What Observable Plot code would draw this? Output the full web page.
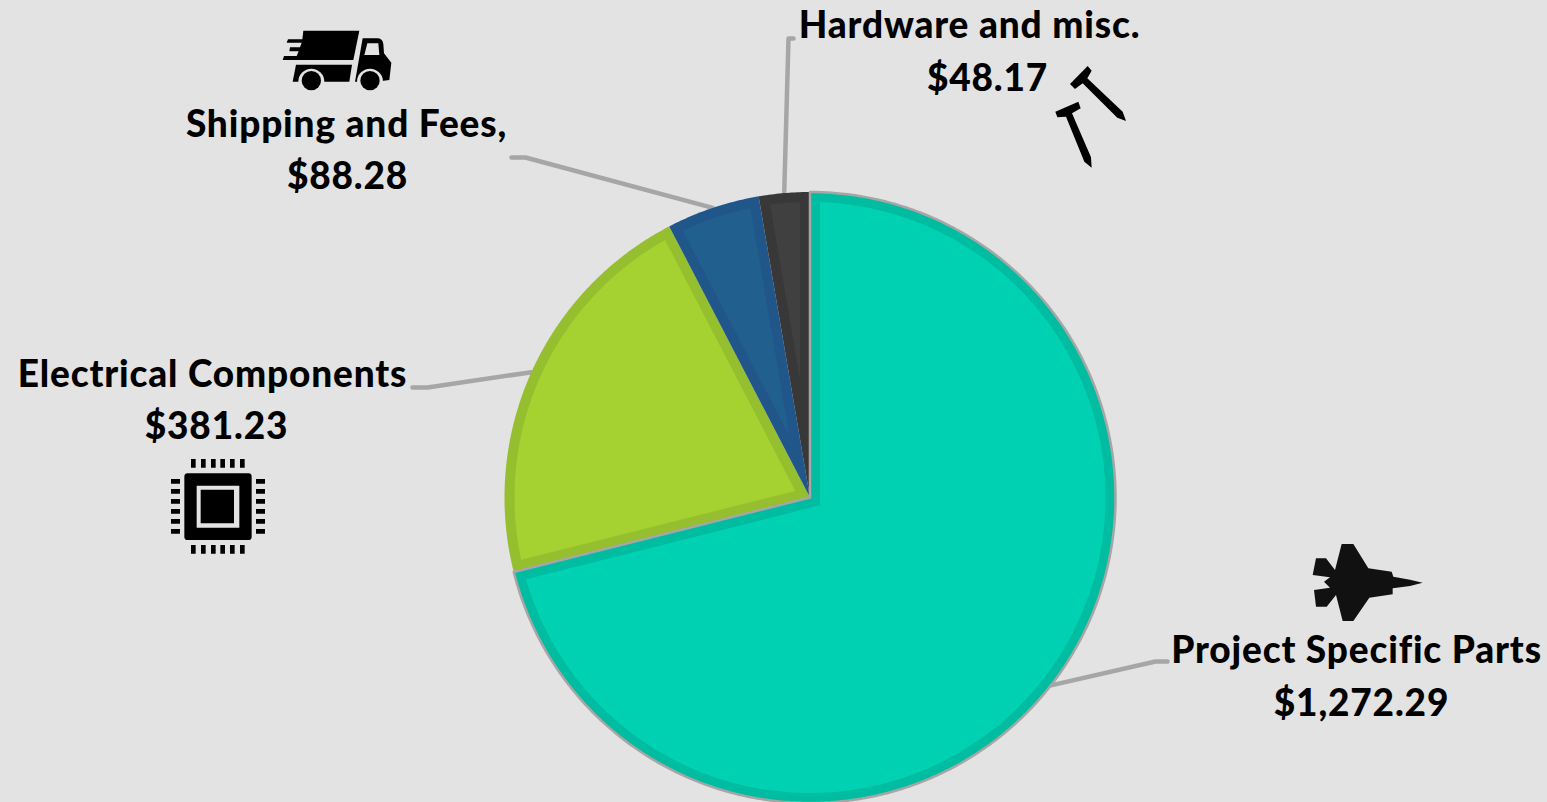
<!DOCTYPE html>
<html>
<head>
<meta charset="utf-8">
<title>Project costs</title>
<script src="https://cdn.jsdelivr.net/npm/d3@7"></script>
<script src="https://cdn.jsdelivr.net/npm/@observablehq/plot@0.6"></script>
<style>
  html, body { margin: 0; padding: 0; background: #e3e3e3; }
  svg { display: block; }
  svg text { font-variant-ligatures: none; letter-spacing: 0.85px; }
</style>
</head>
<body>
<div id="chart"></div>
<script>
// Spending by category, clockwise from twelve o'clock
const categories = ["Project Specific Parts", "Electrical Components", "Shipping and Fees,", "Hardware and misc."];
const costs = [1272.29, 381.23, 88.28, 48.17];

// Slice colours: face and the darker inner band
const faceColors = ["#00d1b2", "#a5d231", "#215f8f", "#404040"];
const bandColors = ["#00bca0", "#95bf2e", "#20568a", "#383838"];

// Page layout
const W = 1547, H = 802;
const center = {x: 809.5, y: 497};
const R = 305.5, BAND = 10;
const FONT = "Lato, sans-serif", FONT_SIZE = 37;
const labelPlaces = [
  {name: [1356, 662], value: [1361, 715], elbow: [1155, 661], end: [1167, 661]},
  {name: [212, 386], value: [216, 438], elbow: [427, 387], end: [412, 387]},
  {name: [346, 136], value: [347, 188], elbow: [525, 157], end: [511, 157]},
  {name: [969, 37], value: [987, 90], elbow: [788, 38], end: [793, 38]}
];

const wedges = d3.pie().sort(null)(costs);
const polar = (angle, radius) => [center.x + radius * Math.sin(angle), center.y - radius * Math.cos(angle)];

// Outline of a slice, optionally pulled in from its edges by `inset`
function wedgeOutline(w, inset = 0) {
  const r = R - inset;
  const pad = inset ? Math.asin(inset / r) : 0;
  const a0 = w.startAngle + pad, a1 = w.endAngle - pad;
  const n = Math.ceil((a1 - a0) / (Math.PI / 360));
  const half = (w.endAngle - w.startAngle) / 2;
  const apex = polar(w.startAngle + half, inset / Math.sin(half));
  return [apex, ...d3.range(n + 1).map(i => polar(a0 + (a1 - a0) * i / n, r)), apex];
}

const slicePoints = (inset, colors) => wedges.flatMap((w, i) =>
  wedgeOutline(w, inset).map(([x, y]) => ({x, y, key: categories[i], color: colors[i]})));

// Leader lines run from the middle of each slice's rim to its label
const leaderPoints = wedges.flatMap((w, i) => {
  const p = labelPlaces[i];
  return [polar((w.startAngle + w.endAngle) / 2, R), p.elbow, p.end].map(([x, y]) => ({x, y, key: categories[i]}));
});

const labels = categories.map((name, i) => ({name, value: d3.format("$,.2f")(costs[i]), place: labelPlaces[i]}));

// Pictograms, each in its own local pixel space (1 unit = 1/3 px)
const ink = "#000", paper = "#e3e3e3";
const ring = (cx, cy, r) => `M${cx - r},${cy}a${r},${r} 0 1,0 ${2 * r},0a${r},${r} 0 1,0 ${-2 * r},0Z`;
const pins = (xs, ys, w, h) => xs.flatMap(x => ys.map(y => `M${x},${y}h${w}v${h}h${-w}Z`)).join("");
const pinRow = [93, 123, 153, 181, 210, 240], pinCol = [87, 117, 147, 177, 207, 237];
const icons = [
  {at: [270, 20], parts: [
    ["M100,32H268L250,120H38L42,108H80L86,94H58L60,82H90L95,68H50L54,58H97Z", ink],
    ["M78,134H246L238,185H68Z", ink],
    ["M278,55H322Q338,55 340,72L342,100L364,128L358,180L318,185H255ZM292,70L283,105H328L325,70Z", ink],
    [ring(124, 185, 39), paper],
    [ring(300, 185, 39), paper],
    ["M60,186H340V220H60Z", paper],
    [ring(124, 182, 29), ink], [ring(300, 182, 29), ink]
  ]},
  {at: [1040, 50], parts: [
    ["M143,48L155,62L142,85L248,185L258,213L232,203L128,100L105,117L90,102Z", ink],
    ["M46,185L115,155L122,175L96,190L153,322L155,353L133,335L78,200L52,202Z", ink]
  ]},
  {at: [160, 450], parts: [
    ["M83,70H265Q275,70 275,80V260Q275,270 265,270H83Q73,270 73,260V80Q73,70 83,70Z", ink],
    ["M110,107H238V233H110Z", paper],
    ["M122,119H222V220H122Z", ink],
    [pins(pinRow, [27, 285], 14, 26), ink],
    [pins([33, 288], pinCol, 27, 14), ink]
  ]},
  {at: [1300, 535], parts: [
    ["M368,143L330,134L280,125L275,110L205,100L160,27H125L105,105L78,70H48L38,120L90,127L72,140L90,158L42,165L48,215H80L108,180L128,258H160L208,188L278,178V160L330,153Z", "#111"]
  ]}
];

function iconMark(index, {x, y}) {
  const g = d3.create("svg:g");
  for (const icon of icons) {
    const layer = g.append("g").attr("transform", `translate(${x(icon.at[0])},${y(icon.at[1])}) scale(${1 / 3})`);
    for (const [d, fill] of icon.parts) layer.append("path").attr("d", d).attr("fill", fill);
  }
  return g.node();
}

const textStyle = {
  fontFamily: FONT, fontSize: FONT_SIZE, fontWeight: 900, fill: "#000",
  textAnchor: "middle", lineAnchor: "bottom"
};

const chart = Plot.plot({
  width: W, height: H, margin: 0,
  style: {background: "#e3e3e3"},
  x: {domain: [0, W], range: [0, W], axis: null},
  y: {domain: [0, H], range: [0, H], axis: null},
  color: {type: "identity"},
  marks: [
    Plot.line(leaderPoints, {x: "x", y: "y", z: "key", stroke: "#a6a6a6", strokeWidth: 4.5, strokeLinejoin: "round"}),
    Plot.line(slicePoints(0, bandColors), {x: "x", y: "y", z: "key", fill: "color", stroke: "none"}),
    Plot.line(slicePoints(BAND, faceColors), {x: "x", y: "y", z: "key", fill: "color", stroke: "none"}),
    Plot.line(slicePoints(0, bandColors).filter(d => d.key === categories[0]), {x: "x", y: "y", stroke: "#a6a6a6", strokeWidth: 2.5}),
    Plot.text(labels, {...textStyle, x: d => d.place.name[0], y: d => d.place.name[1], text: "name"}),
    Plot.text(labels, {...textStyle, x: d => d.place.value[0], y: d => d.place.value[1], text: "value"}),
    iconMark
  ]
});
document.getElementById("chart").append(chart);
</script>
</body>
</html>
